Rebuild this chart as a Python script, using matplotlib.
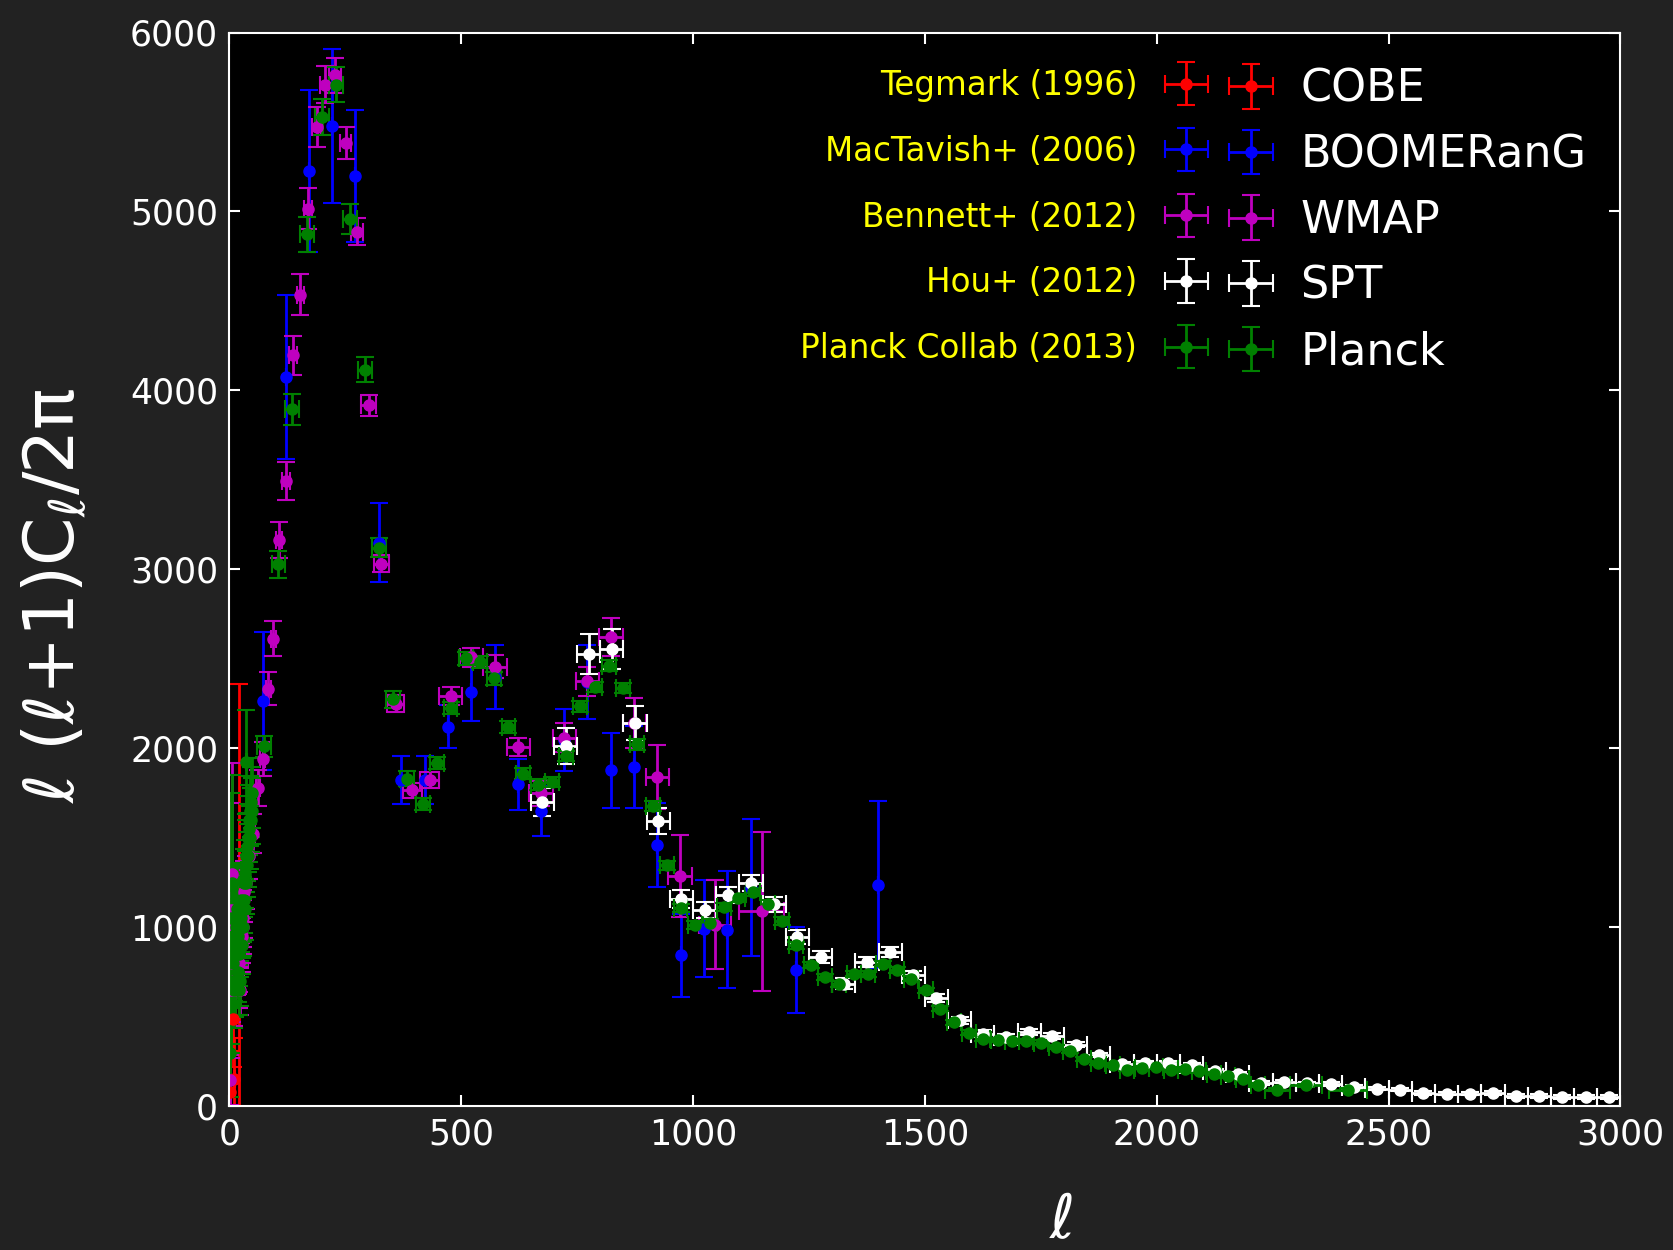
import numpy as np
import matplotlib
matplotlib.use('Agg')
import matplotlib.pyplot as plt
from matplotlib.container import ErrorbarContainer
from matplotlib.legend_handler import HandlerErrorbar

# COBE (Tegmark 1996)
cobe_l = [2, 7, 11, 21]
cobe_d = [80, 490, 150, 1000]
cobe_dl = [1, 2, 2, 5]
cobe_dd = [230, 270, 230, 1360]

# BOOMERanG (MacTavish+ 2006)
boom_l = [72, 122, 172, 222, 272, 323, 371, 422, 472, 522, 572, 623, 672, 722,
          772, 823, 873, 923, 973, 1023, 1074, 1124, 1223, 1399]
boom_d = [2264, 4075, 5225, 5480, 5197, 3150, 1822, 1822, 2120, 2313, 2400, 1800,
          1650, 2047, 2370, 1877, 1896, 1462, 844, 993, 987, 1222, 760, 1238]
boom_dd = [386, 460, 453, 430, 368, 220, 135, 134, 120, 160, 180, 143, 142, 175,
           205, 208, 229, 235, 233, 273, 326, 382, 240, 466]

# WMAP (Bennett+ 2012)
wmap_l = [2, 3, 4, 5, 6, 7, 8, 9, 10, 11, 12, 13, 14, 15, 16, 17, 18, 19, 20, 21,
          22, 23, 24, 25, 26, 27, 28, 29, 30, 31, 32,
          36, 42, 51, 62, 72, 84, 95, 107, 122, 137, 153, 169, 188, 206, 228, 251,
          275, 301, 328, 359, 395, 432, 477, 522, 573, 623, 672, 722, 772, 823,
          873, 923, 972, 1047, 1148]
wmap_d = [145, 1095, 650, 1300, 800, 900, 700, 1000, 650, 900, 700, 1000, 850, 950,
          800, 1050, 800, 900, 700, 800, 650, 950, 950, 1100, 1000, 900, 950, 1050,
          1000, 1100, 1200,
          1250, 1400, 1523, 1780, 1940, 2334, 2613, 3162, 3494, 4196, 4535, 5015,
          5471, 5709, 5760, 5382, 4888, 3916, 3032, 2250, 1765, 1822, 2292, 2508,
          2457, 2007, 1749, 2060, 2374, 2622, 2140, 1840, 1286, 1014, 1089]
wmap_dl = [0.5] * 31 + [3, 3, 5, 5, 5, 6, 6, 7, 8, 8, 8, 9, 9, 10, 12, 12, 13, 16,
                        16, 18, 20, 20, 25, 25, 25, 25, 25, 25, 25, 25, 25, 25, 25,
                        35, 48]
wmap_dd = [140, 600, 380, 620, 330, 340, 250, 320, 200, 260, 190, 250, 210, 220,
           180, 220, 170, 180, 150, 160, 140, 180, 170, 190, 170, 150, 150, 160,
           150, 160, 170,
           150, 130, 110, 100, 95, 93, 98, 100, 104, 110, 115, 115, 113, 105, 100,
           90, 75, 60, 47, 47, 40, 45, 50, 55, 65, 50, 70, 80, 83, 105, 140, 180,
           228, 249, 444]

# SPT (Hou+ 2012)
spt_l = [675, 725, 775, 825, 875, 925, 975, 1025, 1075, 1125, 1175, 1225, 1275,
         1325, 1375, 1425, 1475, 1525, 1575, 1625, 1675, 1725, 1775, 1825, 1875,
         1925, 1975, 2025, 2075, 2125, 2175, 2225, 2275, 2325, 2375, 2425, 2475,
         2525, 2575, 2625, 2675, 2725, 2775, 2825, 2875, 2925, 2975]
spt_d = [1700, 2011, 2525, 2557, 2141, 1594, 1160, 1099, 1179, 1248, 1128, 946, 834,
         685, 806, 862, 732, 607, 480, 406, 387, 415, 393, 343, 287, 235, 242, 242,
         233, 197, 179, 130, 138, 128, 123, 108, 99, 93, 74, 71, 71, 74, 58, 58, 52,
         52, 52]
spt_dd = [76, 100, 112, 112, 93, 70, 50, 45, 45, 45, 40, 40, 35, 30, 30, 28, 25, 22,
          20, 18, 17, 16, 15, 14, 13, 12, 12, 11, 11, 10, 10, 10, 10, 10, 10, 10, 10,
          10, 10, 10, 10, 10, 10, 10, 10, 10, 10]

# Planck (Planck Collab 2013): unbinned low-l, then binned
planck_l = [2, 3, 4, 5, 6, 7, 8, 9, 10, 11, 12, 13, 14, 15, 16, 17, 18, 19, 20, 21,
            22, 23, 24, 25, 26, 27, 28, 29, 30, 31, 32, 33, 34, 35, 36, 37, 38, 39,
            40, 41, 42, 43, 44, 45, 46, 47, 48, 49,
            75, 106, 136, 168, 199, 230, 261, 292, 323, 353, 384, 417, 447, 477,
            510, 540, 571, 602, 634, 665, 695, 726, 756, 788, 819, 849, 880, 913,
            943, 973, 1004, 1036, 1066, 1097, 1130, 1161, 1192, 1223, 1254, 1285,
            1315, 1347, 1378, 1409, 1440, 1471, 1502, 1532, 1563, 1595, 1626, 1657,
            1688, 1719, 1750, 1782, 1813, 1843, 1874, 1906, 1936, 1968, 1998, 2030,
            2061, 2091, 2123, 2153, 2185, 2219, 2260, 2322, 2413]
planck_d = [300, 1050, 700, 1250, 900, 950, 800, 950, 650, 850, 700, 1050, 900, 1000,
            850, 1100, 750, 950, 650, 850, 700, 900, 1000, 1150, 1050, 900, 1000,
            1100, 1000, 1150, 1250, 1100, 1300, 1400, 1250, 1924, 1350, 1450, 1500,
            1400, 1600, 1550, 1650, 1500, 1700, 1600, 1750, 1650,
            2011, 3028, 3894, 4872, 5527, 5708, 4957, 4116, 3122, 2275, 1831, 1688,
            1919, 2226, 2503, 2482, 2391, 2120, 1858, 1796, 1812, 1957, 2234, 2343,
            2461, 2337, 2023, 1676, 1346, 1108, 1011, 1024, 1113, 1164, 1197, 1132,
            1035, 899, 788, 722, 682, 737, 741, 797, 760, 713, 648, 546, 468, 412,
            378, 372, 365, 365, 356, 331, 309, 266, 240, 229, 205, 216, 222, 203,
            209, 197, 183, 168, 151, 119, 93, 116, 93]
planck_dl = [0.5] * 48 + [15] * 70 + [27, 35, 41]
planck_dd = [250, 700, 400, 600, 400, 380, 300, 330, 210, 260, 200, 290, 240, 250,
             200, 250, 170, 210, 140, 180, 140, 180, 190, 210, 190, 160, 170, 180,
             160, 180, 190, 170, 190, 200, 175, 292, 180, 190, 190, 175, 195, 185,
             195, 175, 195, 180, 195, 185,
             60, 75, 88, 98, 102, 98, 82, 70, 51, 47, 40, 35, 35, 35, 35, 35, 35,
             32, 30, 30, 30, 30, 30, 30, 30, 30, 30, 28, 26, 24, 22, 22, 22, 22, 22,
             22, 20, 20, 18, 18, 16, 16, 16, 16, 16, 15, 15, 14, 13, 12, 12, 12, 12,
             12, 12, 11, 11, 11, 10, 10, 10, 10, 10, 10, 10, 10, 10, 10, 10, 10, 10,
             10, 10]

surveys = ['COBE', 'BOOMERanG', 'WMAP', 'SPT', 'Planck']
papers = ['Tegmark (1996)', 'MacTavish+ (2006)', 'Bennett+ (2012)', 'Hou+ (2012)',
          'Planck Collab (2013)']
colors = ['r', 'b', 'm', 'w', 'g']

datasets = [
    (cobe_l, cobe_d, cobe_dl, cobe_dd),
    (boom_l, boom_d, [0] * len(boom_l), boom_dd),
    (wmap_l, wmap_d, wmap_dl, wmap_dd),
    (spt_l, spt_d, 25, spt_dd),
    (planck_l, planck_d, planck_dl, planck_dd),
]

fig = plt.figure(figsize=(16.74, 12.5), dpi=100, facecolor='#222222')
ax = fig.add_axes([0.137, 0.115, 0.831, 0.859], facecolor='black')

handles = []
for (l, d, dl, dd), c in zip(datasets, colors):
    h = ax.errorbar(l, d, xerr=dl, yerr=dd, fmt='o', color=c, mec=c, ms=8,
                    elinewidth=2, capsize=6.5, capthick=1.5)
    handles.append(h)

ax.set_xlim(0, 3000)
ax.set_ylim(0, 6000)
ax.set_xticks(np.arange(0, 3001, 500))
ax.set_yticks(np.arange(0, 6001, 1000))
ax.tick_params(direction='in', top=True, right=True, colors='white',
               length=8, width=1.5, labelsize=25, pad=8)
for s in ax.spines.values():
    s.set_color('white')
    s.set_linewidth(1.5)

ax.set_xlabel(r'$\ell$', fontsize=44, color='white')
ax.xaxis.set_label_coords(0.598, -0.08)
ax.set_ylabel(r'$\ell\ (\ell\mathrm{+1)C}_\ell\mathrm{/2\pi}$', fontsize=50,
              color='white', va='center')
ax.yaxis.set_label_coords(-0.126, 0.476)

# citations on the left of the markers, survey names on the right
leg1 = ax.legend(handles, papers, loc='upper right', bbox_to_anchor=(0.7067, 0.966),
                 markerfirst=False, frameon=False, fontsize=23.5, labelcolor='yellow',
                 numpoints=1, handlelength=1.6, handletextpad=0.7, labelspacing=1.005,
                 borderpad=0, borderaxespad=0,
                 handler_map={ErrorbarContainer: HandlerErrorbar(xerr_size=0.66)})
ax.add_artist(leg1)
ax.legend(handles, surveys, loc='upper left', bbox_to_anchor=(0.7153, 0.967),
          frameon=False, fontsize=32, labelcolor='white', numpoints=1,
          handlelength=1.2, handletextpad=0.51, labelspacing=0.51,
          borderpad=0, borderaxespad=0)

fig.savefig('out.png', dpi=100, facecolor=fig.get_facecolor())
